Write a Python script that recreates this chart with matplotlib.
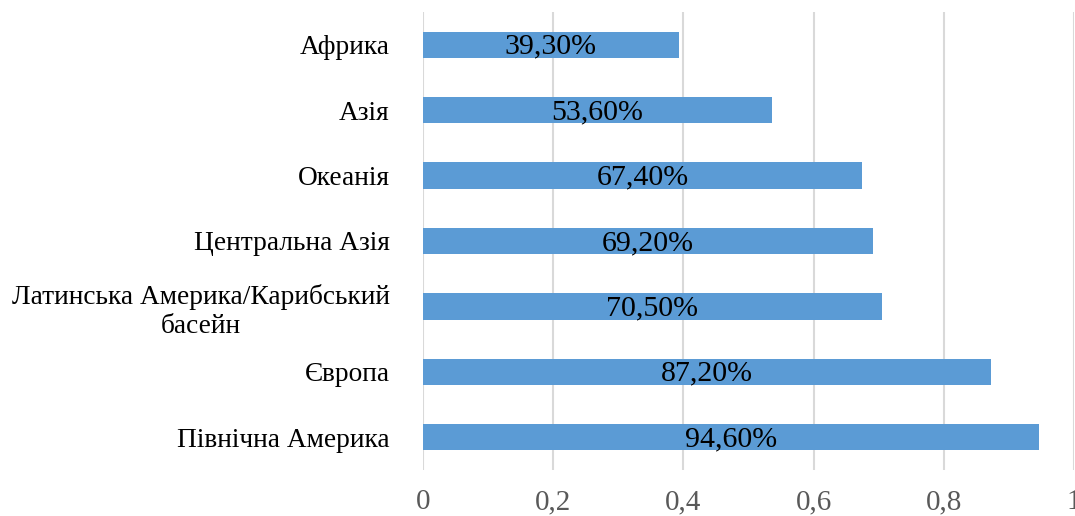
import matplotlib
matplotlib.use("Agg")
import matplotlib.pyplot as plt
import numpy as np

plt.rcParams['font.family'] = ['Liberation Serif', 'DejaVu Serif']

# data, top to bottom as in the chart
regions = ['Африка', 'Азія', 'Океанія', 'Центральна Азія',
           'Латинська Америка/Карибський\nбасейн', 'Європа', 'Північна Америка']
shares = [0.393, 0.536, 0.674, 0.692, 0.705, 0.872, 0.946]
share_labels = ['39,30%', '53,60%', '67,40%', '69,20%', '70,50%', '87,20%', '94,60%']
xticks = [0, 0.2, 0.4, 0.6, 0.8, 1.0]
xtick_labels = ['0', '0,2', '0,4', '0,6', '0,8', '1']

fig = plt.figure(figsize=(10.75, 5.16), dpi=100)
ax = fig.add_axes([423 / 1075, 1 - 470 / 516, 651 / 1075, 458 / 516])

y = np.arange(len(regions))
bars = ax.barh(y, shares, height=0.4, color='#5b9bd5', zorder=3)
ax.set_ylim(len(regions) - 0.5, -0.5)
ax.set_xlim(0, 1)

# value labels centred inside the bars
for bar, lab in zip(bars, share_labels):
    cx = bar.get_x() + bar.get_width() / 2
    cy = bar.get_y() + bar.get_height() / 2
    ax.text(cx, cy + 0.03, lab, ha='center', va='center', fontsize=21.5, color='black', zorder=4)

ax.set_yticks(y)
ax.set_yticklabels(regions, fontsize=19.7, color='black', ha='right', multialignment='center')
ax.set_xticks(xticks)
ax.set_xticklabels(xtick_labels, fontsize=21, color='#595959')

ax.tick_params(axis='y', length=0, pad=24)
ax.tick_params(axis='x', length=0, pad=14)

ax.grid(axis='x', color='#d9d9d9', linewidth=1.5, zorder=0)
for s in ax.spines.values():
    s.set_visible(False)

plt.savefig('out.png', dpi=100)
